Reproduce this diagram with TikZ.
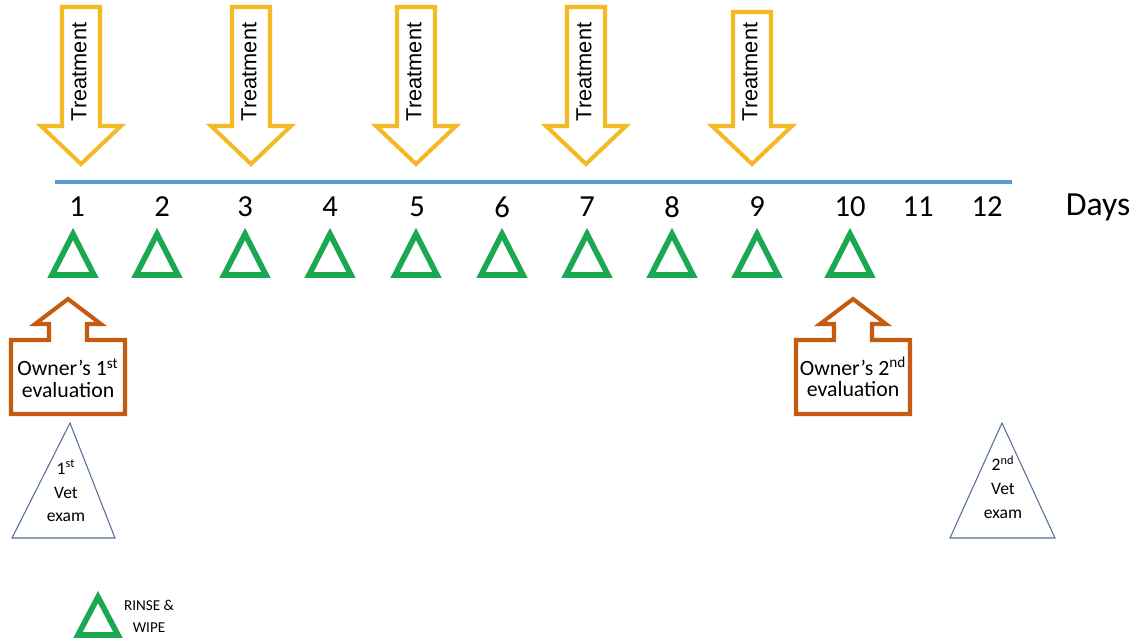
\documentclass[tikz,border=0pt]{standalone}
\usepackage{fontspec}
\setmainfont{Carlito}
\newfontfamily\arialfont{Liberation Sans}

\definecolor{treatyellow}{RGB}{242,186,36}
\definecolor{owneryellow}{RGB}{197,90,17}
\definecolor{daylineblue}{RGB}{91,155,213}
\definecolor{rinsegreen}{RGB}{26,168,80}
\definecolor{vetblue}{RGB}{84,110,150}

\tikzset{
  treatarrow/.style={draw=treatyellow, line width=2.3pt, line join=miter, fill=white},
  treattext/.style={rotate=90, inner sep=0pt, font=\arialfont\fontsize{12.4}{14}\selectfont},
  ownerarrow/.style={draw=owneryellow, line width=2.3pt, line join=miter, fill=white},
  ownertext/.style={align=center, inner sep=0pt, font=\fontsize{12.4}{12.2}\selectfont},
  rinsetri/.style={draw=rinsegreen, line width=3.2pt, line join=miter},
  vettri/.style={draw=vetblue, line width=0.6pt},
  vettext/.style={align=center, inner sep=0pt, font=\fontsize{10}{13.6}\selectfont},
  daylabel/.style={inner sep=0pt, font=\fontsize{17.4}{19}\selectfont},
}

\begin{document}
\begin{tikzpicture}[x=0.02cm, y=-0.02cm]
  \useasboundingbox (0,0) rectangle (1138,643);

  % --- 1. Treatment arrows (days 1, 3, 5, 7, 9) ---
  \foreach \cx/\ty [count=\i] in {81/7, 251/7, 416/7, 586/7, 752/12} {
    \draw[treatarrow] (\cx-19,\ty) -- (\cx+19,\ty) -- (\cx+19,126) -- (\cx+40,126)
      -- (\cx,164) -- (\cx-40,126) -- (\cx-19,126) -- cycle;
    \node[treattext] (treat\i) at (\cx-2,72) {Treatment};
  }

  % --- 2. Time line and day numbers ---
  \coordinate (linestart) at (55,182);
  \coordinate (lineend) at (1012,182);
  \draw[daylineblue, line width=2.8pt] (linestart) -- (lineend);

  \foreach \d/\x in {1/77, 2/162, 3/245, 4/330, 5/417, 6/502, 7/587, 8/672, 9/757, 10/850, 11/918, 12/987}
    \node[daylabel] (day\d) at (\x,207) {\d};
  \node[daylabel, font=\fontsize{19.2}{21}\selectfont] (days) at (1098,207) {Days};

  % --- 3. Daily rinse & wipe triangles (days 1 to 10) ---
  \foreach \x in {73, 157, 245, 330, 416, 502, 587, 672, 757, 850}
    \draw[rinsetri] (\x,234) -- (\x+21,275) -- (\x-21,275) -- cycle;

  % --- 4. Owner's evaluations ---
  \foreach \cx/\i in {68/1, 853/2} {
    \draw[ownerarrow] (\cx-57,414) -- (\cx-57,340) -- (\cx-19,340) -- (\cx-19,324)
      -- (\cx-33,324) -- (\cx,299) -- (\cx+33,324) -- (\cx+19,324) -- (\cx+19,340)
      -- (\cx+57,340) -- (\cx+57,414) -- cycle;
  }
  \node[ownertext] (owner1) at (68,378) {Owner’s 1\textsuperscript{st}\\evaluation};
  \node[ownertext] (owner2) at (853,377) {Owner’s 2\textsuperscript{nd}\\evaluation};

  % --- 5. Vet exams ---
  \draw[vettri] (70,423) -- (115,538) -- (12,538) -- cycle;
  \node[vettext] (vet1) at (66,491) {1\textsuperscript{st}\\Vet\\exam};
  \draw[vettri] (1002,423) -- (1055,538) -- (950,538) -- cycle;
  \node[vettext] (vet2) at (1003,487) {2\textsuperscript{nd}\\Vet\\exam};

  % --- 6. Legend ---
  \draw[rinsetri] (98,597) -- (118,635) -- (78,635) -- cycle;
  \node[ownertext, font=\fontsize{8.6}{12.4}\selectfont] (rinse) at (149,616) {RINSE \&\\WIPE};

\end{tikzpicture}
\end{document}
